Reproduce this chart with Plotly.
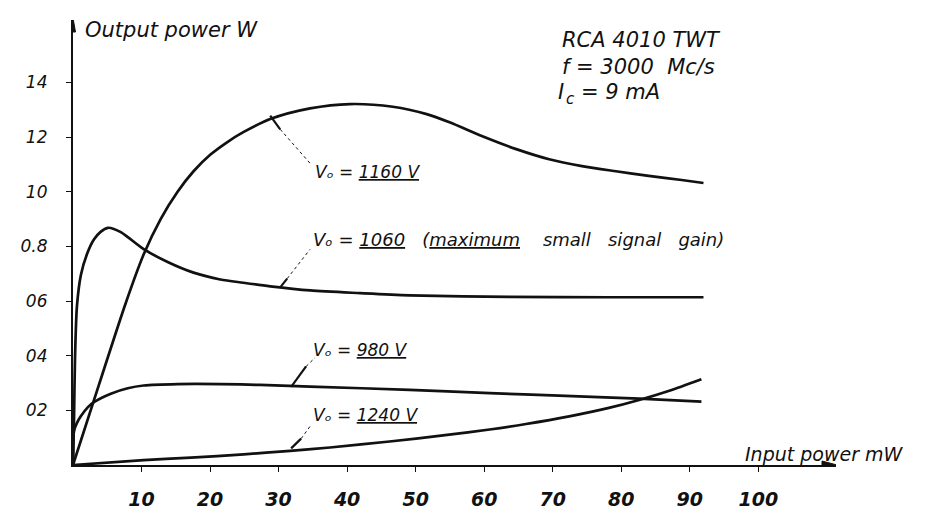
import plotly.graph_objects as go

# ---- data (input power mW, output power W) ----
x_1160 = [0, 3.78, 7.70, 10.32, 12.79, 15.26, 17.59, 20.06, 22.53, 24.85, 28.78, 34.59, 40.41, 46.66, 51.6, 54.94, 59.74, 64.68, 69.48, 74.27, 79.22, 84.01, 88.81, 92.0]
y_1160 = [0, 0.293, 0.593, 0.771, 0.900, 1.000, 1.075, 1.136, 1.182, 1.218, 1.266, 1.305, 1.321, 1.311, 1.284, 1.254, 1.203, 1.156, 1.119, 1.094, 1.075, 1.058, 1.043, 1.032]

x_1060 = [0, 0.15, 0.29, 0.58, 1.16, 2.03, 3.05, 4.07, 5.09, 5.96, 6.98, 7.99, 10.32, 13.81, 17.59, 21.5, 24.85, 28.78, 34.6, 41.9, 49.1, 63.7, 78.2, 92.0]
y_1060 = [0, 0.171, 0.386, 0.582, 0.696, 0.771, 0.825, 0.854, 0.868, 0.864, 0.852, 0.834, 0.790, 0.743, 0.704, 0.679, 0.667, 0.654, 0.639, 0.629, 0.621, 0.615, 0.614, 0.614]

x_980 = [0, 0.05, 0.15, 0.58, 1.16, 2.18, 3.05, 5.52, 7.99, 10.32, 15.26, 21.5, 27.3, 34.6, 49.1, 60.8, 70.9, 82.6, 91.7]
y_980 = [0, 0.10, 0.125, 0.154, 0.179, 0.212, 0.230, 0.261, 0.281, 0.291, 0.296, 0.296, 0.293, 0.287, 0.275, 0.263, 0.254, 0.243, 0.232]

x_1240 = [0, 10.3, 17.2, 24.9, 31.7, 37.5, 46.2, 54.9, 60.8, 66.1, 72.4, 78.2, 82.6, 86.9, 91.7]
y_1240 = [0, 0.018, 0.027, 0.039, 0.052, 0.064, 0.086, 0.111, 0.130, 0.150, 0.178, 0.209, 0.238, 0.271, 0.314]

x_ticks = [10, 20, 30, 40, 50, 60, 70, 80, 90, 100]
x_tick_text = ["10", "20", "30", "40", "50", "60", "70", "80", "90", "100"]
y_ticks = [0.2, 0.4, 0.6, 0.8, 1.0, 1.2, 1.4]
y_tick_text = ["02", "04", "06", "0.8", "10", "12", "14"]

# ---- layout constants (pixels) ----
W, H = 932, 514
X0_PX, Y0_PX = 62, 468          # origin
PX_PER_MW, PX_PER_W = 6.88, 280.0
X_END_PX, Y_TOP_PX = 828, 12
X_MAX = (X_END_PX - X0_PX) / PX_PER_MW
Y_MAX = (Y0_PX - Y_TOP_PX) / PX_PER_W
FONT = "DejaVu Sans"
INK = "#111111"
NB = "\u00a0"
VO = "V\u2092"   # V with subscript o


def dx(px):
    return (px - X0_PX) / PX_PER_MW


def dy(py):
    return (Y0_PX - py) / PX_PER_W


def und(s):
    return f"<u>{s}</u>"


fig = go.Figure()
for xs, ys in [(x_1160, y_1160), (x_1060, y_1060), (x_980, y_980), (x_1240, y_1240)]:
    fig.add_trace(go.Scatter(x=xs, y=ys, mode="lines",
                             line=dict(color=INK, width=2.7, shape="spline", smoothing=0.8),
                             hoverinfo="skip", showlegend=False))

# leader strokes: short solid dash at the curve, dotted run to the label
leaders = [
    ((260, 110), (270, 124), (301, 160)),
    ((270, 286), (277, 277), (300, 247)),
    ((281, 388), (296, 367), (305, 358)),
    ((281, 451), (291, 441), (301, 427)),
]
for a, b, c in leaders:
    fig.add_shape(type="line", x0=dx(a[0]), y0=dy(a[1]), x1=dx(b[0]), y1=dy(b[1]),
                  line=dict(color=INK, width=2.2))
    fig.add_shape(type="line", x0=dx(b[0]), y0=dy(b[1]), x1=dx(c[0]), y1=dy(c[1]),
                  line=dict(color=INK, width=1, dash="dot"))

# arrow heads at the end of the x axis and the top of the y axis
fig.add_shape(type="path", xref="x", yref="y", xsizemode="pixel", ysizemode="pixel",
              xanchor=X_MAX, yanchor=0, path="M -14,-4 L 1,0 L -14,4 Z",
              fillcolor=INK, line=dict(color=INK, width=1))
fig.add_shape(type="path", xref="x", yref="y", xsizemode="pixel", ysizemode="pixel",
              xanchor=0, yanchor=Y_MAX, path="M -2.5,-12 L 0,2 L 2.5,-12 Z",
              fillcolor=INK, line=dict(color=INK, width=1))


def note(px, py, text, size=17, weight="normal"):
    fig.add_annotation(x=dx(px), y=dy(py), xref="x", yref="y", text=text, showarrow=False,
                       xanchor="left", yanchor="middle",
                       font=dict(family=FONT, size=size, color=INK, style="italic", weight=weight))


S = 17
note(303, 168, VO + " = " + und("1160 V"), size=S)
note(301, 237, VO + " = " + und("1060") + NB * 3 + "(" + und("maximum")
     + NB * 4 + "small" + NB * 3 + "signal" + NB * 3 + "gain)", size=18)
note(301, 350, VO + " = " + und("980 V"), size=S)
note(301, 417, VO + " = " + und("1240 V"), size=S)

T = 21
note(551, 33, "RCA 4010 TWT", size=T)
note(551, 60, "f = 3000" + NB * 2 + "Mc/s", size=T)
note(547, 86, "I", size=T)
note(555, 93, "c", size=15)
note(570, 86, "= 9 mA", size=T)

note(72, 22, "Output power W", size=21)
note(735, 457, "Input power mW", size=19)

fig.update_layout(
    width=W, height=H,
    margin=dict(l=X0_PX, r=W - X_END_PX, t=Y_TOP_PX, b=H - Y0_PX),
    paper_bgcolor="white", plot_bgcolor="white",
    font=dict(family=FONT, color=INK),
    xaxis=dict(range=[0, X_MAX], showgrid=False, zeroline=False, showline=True,
               linecolor=INK, linewidth=1.6, ticks="outside", ticklen=5, tickwidth=1.4,
               tickcolor=INK, tickvals=x_ticks, ticktext=x_tick_text,
               tickfont=dict(family=FONT, size=19, color=INK, style="italic", weight="bold"),
               ticklabelstandoff=11),
    yaxis=dict(range=[0, Y_MAX], showgrid=False, zeroline=False, showline=True,
               linecolor=INK, linewidth=2.2, ticks="outside", ticklen=5, tickwidth=1.4,
               tickcolor=INK, tickvals=y_ticks, ticktext=y_tick_text,
               tickfont=dict(family=FONT, size=17, color=INK, style="italic"),
               ticklabelstandoff=15),
)

fig.write_html("out.html")
